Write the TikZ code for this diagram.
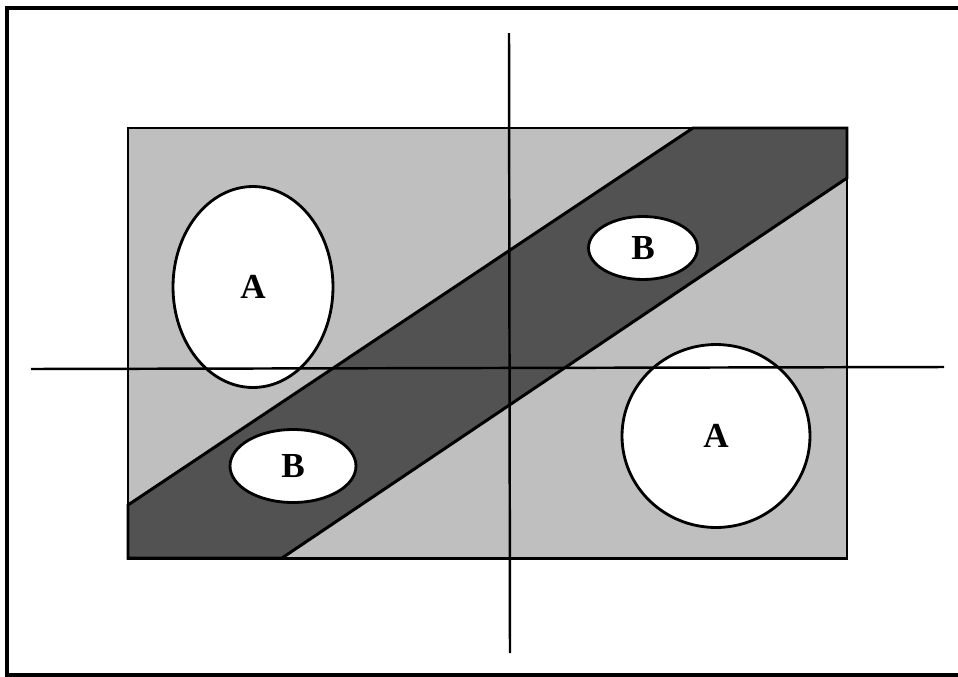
\documentclass[tikz,border=0pt]{standalone}
\usepackage{fontspec}
\setmainfont{Liberation Serif}
\usetikzlibrary{shapes.geometric}
\begin{document}
\begin{tikzpicture}[x=0.02cm,y=-0.02cm,
  frameline/.style={line width=2.2pt},
  boxline/.style={line width=1.7pt},
  axisline/.style={line width=1.4pt},
  region/.style={ellipse,draw,line width=1.6pt,fill=white,inner sep=0pt,
    font=\fontsize{20}{24}\selectfont\bfseries},
  lightfill/.style={fill=black!25},
  darkfill/.style={fill=black!68}]
\useasboundingbox (0,0) rectangle (958,677);
% outer frame (right edge lies outside the picture)
\draw[frameline] (975,8) -- (7,8) -- (7,675) -- (975,675);
% light background rectangle
\draw[boxline,lightfill] (128,128) rectangle (847,558);
% dark band
\draw[boxline,darkfill] (693,128) -- (847,128) -- (847,178) -- (282,558) -- (128,558) -- (128,505) -- cycle;
% regions
\node[region,minimum width=3.2cm,minimum height=4.02cm] (a1) at (253,287) {A};
\node[region,minimum width=2.18cm,minimum height=1.26cm] (b1) at (643,248) {B};
\node[region,minimum width=2.52cm,minimum height=1.46cm] (b2) at (293,466) {B};
\node[region,minimum width=3.76cm,minimum height=3.66cm] (a2) at (716,436) {A};
% axes
\coordinate (hl) at (31,369);
\coordinate (hr) at (944,367);
\coordinate (vt) at (509,33);
\coordinate (vb) at (510,653);
\draw[axisline] (hl) -- (hr);
\draw[axisline] (vt) -- (vb);
\end{tikzpicture}
\end{document}
